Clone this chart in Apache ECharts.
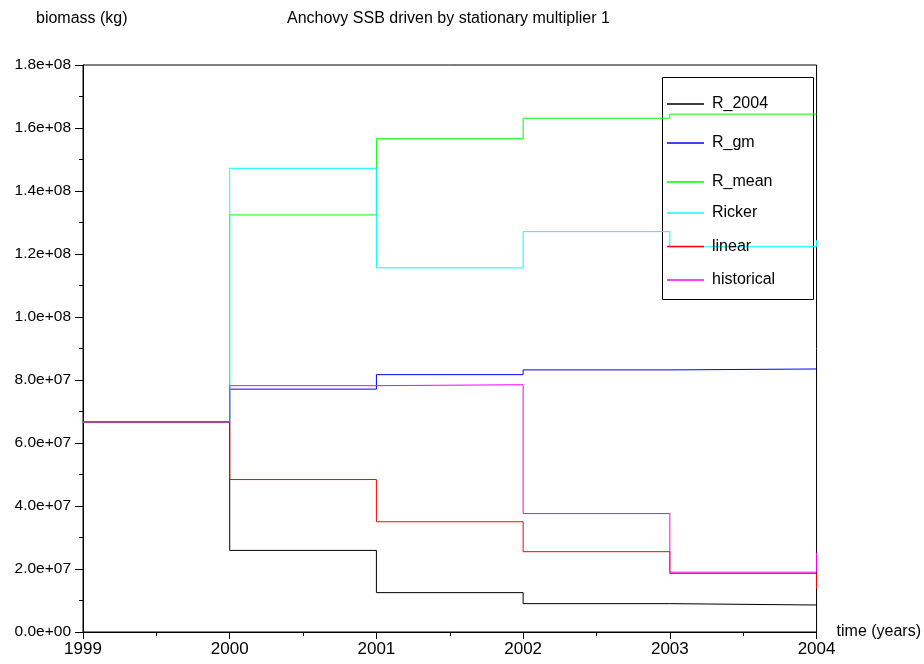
<!DOCTYPE html>
<html>
<head>
<meta charset="utf-8">
<script src="https://cdn.jsdelivr.net/npm/echarts@6/dist/echarts.min.js"></script>
<style>
html,body{margin:0;padding:0;background:#fff;}
#chart{width:924px;height:664px;}
</style>
</head>
<body>
<div id="chart"></div>
<script>
var years = [1999, 2000, 2001, 2002, 2003, 2004];
var seriesNames = ['R_2004', 'R_gm', 'R_mean', 'Ricker', 'linear', 'historical'];
var r2004 = [6.67e7, 2.59e7, 1.25e7, 0.90e7, 0.857e7, 0.84e7];
var rgm = [6.67e7, 7.71e7, 8.17e7, 8.32e7, 8.35e7, 8.35e7];
var rmean = [6.67e7, 13.24e7, 15.66e7, 16.31e7, 16.44e7, 16.44e7];
var ricker = [6.67e7, 14.72e7, 11.56e7, 12.71e7, 12.23e7, 12.44e7];
var linear = [6.67e7, 4.84e7, 3.50e7, 2.55e7, 1.86e7, 1.37e7];
var historical = [6.67e7, 7.82e7, 7.85e7, 3.76e7, 1.90e7, 2.52e7];
var yTickValues = [0, 2e7, 4e7, 6e7, 8e7, 1e8, 1.2e8, 1.4e8, 1.6e8, 1.8e8];

var colors = ['#000000', '#0000ff', '#00ff00', '#00ffff', '#ff0000', '#ff00ff'];
var allData = [r2004, rgm, rmean, ricker, linear, historical];

function fmtExp(v) {
  if (v === 0) return '0.0e+00';
  var e = Math.floor(Math.log10(Math.abs(v)) + 1e-9);
  var m = v / Math.pow(10, e);
  var es = (e < 0 ? '-' : '+') + (Math.abs(e) < 10 ? '0' : '') + Math.abs(e);
  return m.toFixed(1) + 'e' + es;
}

var FONT = 'Liberation Sans';
var chart = echarts.init(document.getElementById('chart'));
var series = seriesNames.map(function (n, i) {
  return {
    name: n,
    type: 'line',
    step: 'end',
    showSymbol: false,
    symbol: 'none',
    animation: false,
    z: 10,
    lineStyle: { color: colors[i], width: 1 },
    itemStyle: { color: colors[i] },
    data: years.map(function (y, k) { return [y, allData[i][k]]; })
  };
});

var legendText = { fontFamily: FONT, fontSize: 16, color: '#000', padding: [0, 0, 0, 3], lineHeight: 16 };
chart.setOption({
  backgroundColor: '#fff',
  animation: false,
  title: [
    { text: 'biomass (kg)', left: 31, top: 6, textStyle: { fontFamily: FONT, fontSize: 16, fontWeight: 'normal', color: '#000' } },
    { text: 'Anchovy SSB driven by stationary multiplier 1', left: 282, top: 6, textStyle: { fontFamily: FONT, fontSize: 16, fontWeight: 'normal', color: '#000' } }
  ],
  graphic: [
    { type: 'rect', left: 660, top: 75, shape: { width: 151, height: 222 }, style: { fill: 'none', stroke: '#000', lineWidth: 1 }, z: 1 }
  ],
  grid: { left: 83, width: 735, top: 65, bottom: 32, show: true, borderColor: '#000', borderWidth: 1, backgroundColor: 'transparent' },
  legend: [
    {
      orient: 'vertical', left: 660, top: 96, padding: [0, 0, 0, 7],
      itemGap: 23, itemWidth: 37, itemHeight: 1.5, icon: 'rect', z: 20,
      data: seriesNames.slice(0, 3), textStyle: legendText
    },
    {
      orient: 'vertical', left: 660, top: 205, padding: [0, 0, 0, 7],
      itemGap: 17.5, itemWidth: 37, itemHeight: 1.5, icon: 'rect', z: 20,
      data: seriesNames.slice(3), textStyle: legendText
    }
  ],
  xAxis: {
    type: 'value',
    min: 1999,
    max: 2004,
    interval: 1,
    name: 'time (years)',
    nameLocation: 'end',
    nameGap: 20,
    nameTextStyle: { fontFamily: FONT, fontSize: 16, color: '#000' },
    axisLine: { show: true, lineStyle: { color: '#000', width: 1 } },
    axisTick: { show: true, inside: false, length: 7, lineStyle: { color: '#000' } },
    minorTick: { show: true, splitNumber: 2, length: 4, lineStyle: { color: '#000' } },
    splitLine: { show: false },
    axisLabel: { fontFamily: FONT, fontSize: 17, color: '#000', margin: 9, formatter: function (v) { return String(v); } }
  },
  yAxis: {
    type: 'value',
    min: 0,
    max: 1.8e8,
    interval: 2e7,
    axisLine: { show: true, lineStyle: { color: '#000', width: 1 } },
    axisTick: { show: true, inside: false, length: 8, lineStyle: { color: '#000' } },
    minorTick: { show: true, splitNumber: 2, length: 4, lineStyle: { color: '#000' } },
    splitLine: { show: false },
    axisLabel: { fontFamily: FONT, fontSize: 15.5, color: '#000', margin: 12, formatter: function (v) {
      var idx = yTickValues.indexOf(v);
      return idx >= 0 ? fmtExp(yTickValues[idx]) : fmtExp(v);
    } }
  },
  series: series
});
</script>
</body>
</html>
